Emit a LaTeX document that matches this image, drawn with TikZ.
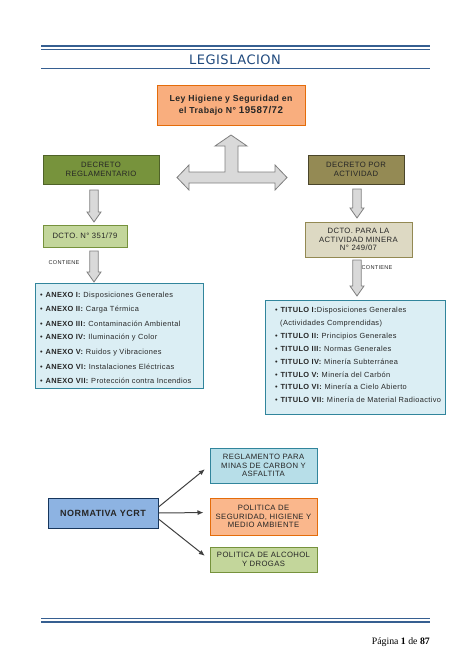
\documentclass[tikz,border=0pt]{standalone}
\usepackage{fontspec}
\setmainfont{Liberation Sans}
\newfontfamily\spfont[LetterSpace=5]{Liberation Sans}
\newfontfamily\titlefont[LetterSpace=4]{DejaVu Sans}
\newfontfamily\footfont{Liberation Serif}
\usetikzlibrary{arrows.meta}
\definecolor{ruleblue}{HTML}{365F91}
\definecolor{titleblue}{HTML}{1F497D}
\definecolor{orfill}{HTML}{F9AE7E}
\definecolor{ordraw}{HTML}{E46C0A}
\definecolor{dgfill}{HTML}{77933C}
\definecolor{dgdraw}{HTML}{4F6228}
\definecolor{olfill}{HTML}{948A54}
\definecolor{oldraw}{HTML}{4A452A}
\definecolor{lgfill}{HTML}{C3D69B}
\definecolor{lgdraw}{HTML}{76923C}
\definecolor{tnfill}{HTML}{DDD9C3}
\definecolor{tndraw}{HTML}{938953}
\definecolor{lbfill}{HTML}{DBEEF4}
\definecolor{lbdraw}{HTML}{31859C}
\definecolor{nbfill}{HTML}{8DB3E2}
\definecolor{nbdraw}{HTML}{17365D}
\definecolor{rbfill}{HTML}{B7DEE8}
\definecolor{pofill}{HTML}{FAB78C}
\definecolor{arrfill}{HTML}{D9D9D9}
\definecolor{arrdraw}{HTML}{7F7F7F}
\newcommand\dnarrow[3]{\draw[blockarr] (#1-4.2,#2) -- (#1+4.2,#2) -- (#1+4.2,#3-10) -- (#1+7,#3-10) -- (#1,#3) -- (#1-7,#3-10) -- (#1-4.2,#3-10) -- cycle;}
\begin{document}
\begin{tikzpicture}[x=1pt,y=-1pt,
  box/.style={draw, line width=1pt, align=center, inner sep=1pt, font=\spfont\fontsize{7.7}{8.8}\selectfont, text=black!85},
  listbox/.style={draw=lbdraw, fill=lbfill, line width=1pt},
  item/.style={anchor=west, inner sep=0pt, font=\spfont\fontsize{7.4}{8}\selectfont, text=black!85},
  blockarr/.style={fill=arrfill, draw=arrdraw, line width=0.8pt, line join=miter},
  conn/.style={draw=black!75, line width=1pt, -{Latex[length=6pt,width=5pt]}, shorten >=6pt},
  lbl/.style={font=\spfont\fontsize{5.6}{6}\selectfont, inner sep=0pt, text=black!85}]
\useasboundingbox (0,0) rectangle (474,669);
% header rules
\draw[ruleblue, line width=1.8pt] (41,46) -- (430,46);
\draw[ruleblue, line width=0.9pt] (41,49.6) -- (430,49.6);
\node[font=\titlefont\fontsize{13}{15}\selectfont, text=titleblue, inner sep=0pt] (title) at (235,60) {LEGISLACION};
\draw[ruleblue, line width=1.4pt] (41,68.5) -- (430,68.5);
% main box
\node[box, draw=ordraw, fill=orfill, minimum width=148pt, minimum height=40pt, font=\spfont\bfseries\fontsize{8.7}{11.5}\selectfont] (ley) at (231,105) {Ley Higiene y Seguridad en\\el Trabajo N° {\fontsize{9.8}{11.5}\selectfont 19587/72}};
% cross arrow
\draw[blockarr] (231,135) -- (247,146) -- (238,146) -- (238,172) -- (275,172) -- (275,165) -- (287,177.5) -- (275,190) -- (275,183) -- (189,183) -- (189,190) -- (177,177.5) -- (189,165) -- (189,172) -- (225,172) -- (225,146) -- (215,146) -- cycle;
% left branch
\node[box, draw=dgdraw, fill=dgfill, minimum width=116pt, minimum height=29pt] (decreg) at (101,169.5) {DECRETO\\REGLAMENTARIO};
\dnarrow{94}{190}{222}
\node[box, draw=lgdraw, fill=lgfill, minimum width=84pt, minimum height=22pt] (d351) at (85,236) {DCTO. N° 351/79};
\node[lbl] (cont1) at (64,263) {CONTIENE};
\dnarrow{94}{251}{282}
\draw[listbox] (35,283.5) rectangle (203,388);
\foreach \yy/\tx in {296/{\textbf{ANEXO I:} Disposiciones Generales},
  310/{\textbf{ANEXO II:} Carga Térmica},
  324/{\textbf{ANEXO III:} Contaminación Ambiental},
  338/{\textbf{ANEXO IV:} Iluminación y Color},
  352.5/{\textbf{ANEXO V:} Ruidos y Vibraciones},
  367/{\textbf{ANEXO VI:} Instalaciones Eléctricas},
  381/{\textbf{ANEXO VII:} Protección contra Incendios}}
  {\node[item] at (40,\yy) {\textbullet\ \tx};}
% right branch
\node[box, draw=oldraw, fill=olfill, minimum width=96pt, minimum height=29pt] (decact) at (356,169.5) {DECRETO POR\\ACTIVIDAD};
\dnarrow{357}{189}{218}
\node[box, draw=tndraw, fill=tnfill, minimum width=107pt, minimum height=35pt] (dmin) at (358.5,239.5) {DCTO. PARA LA\\ACTIVIDAD MINERA\\N° 249/07};
\node[lbl] (cont2) at (377,268) {CONTIENE};
\dnarrow{357}{260}{296}
\draw[listbox] (265,300) rectangle (445,414);
\foreach \yy/\tx in {310.5/{\textbullet\ \textbf{TITULO I:}Disposiciones Generales},
  323.3/{\phantom{\textbullet\ }(Actividades Comprendidas)},
  336.1/{\textbullet\ \textbf{TITULO II:} Principios Generales},
  348.9/{\textbullet\ \textbf{TITULO III:} Normas Generales},
  361.7/{\textbullet\ \textbf{TITULO IV:} Minería Subterránea},
  374.5/{\textbullet\ \textbf{TITULO V:} Minería del Carbón},
  387.3/{\textbullet\ \textbf{TITULO VI:} Minería a Cielo Abierto},
  400.1/{\textbullet\ \textbf{TITULO VII:} Minería de Material Radioactivo}}
  {\node[item] at (275,\yy) {\tx};}
% bottom section
\node[box, draw=nbdraw, fill=nbfill, minimum width=110pt, minimum height=30pt, font=\spfont\bfseries\fontsize{9}{10}\selectfont] (norm) at (103,513) {NORMATIVA YCRT};
\node[box, draw=lbdraw, fill=rbfill, minimum width=107pt, minimum height=35pt] (reg) at (263.5,465.5) {REGLAMENTO PARA\\MINAS DE CARBON Y\\ASFALTITA};
\node[box, draw=ordraw, fill=pofill, minimum width=107pt, minimum height=37pt] (pol) at (263.5,516.5) {POLITICA DE\\SEGURIDAD, HIGIENE Y\\MEDIO AMBIENTE};
\node[box, draw=lgdraw, fill=lgfill, minimum width=107pt, minimum height=25pt] (alc) at (263.5,559.5) {POLITICA DE ALCOHOL\\Y DROGAS};
\draw[conn] ([yshift=6pt]norm.east) -- (reg.west);
\draw[conn] (norm.east) -- ([yshift=4pt]pol.west);
\draw[conn] ([yshift=-6pt]norm.east) -- (alc.west);
% footer
\draw[ruleblue, line width=0.9pt] (41,618.3) -- (430,618.3);
\draw[ruleblue, line width=1.8pt] (41,621.6) -- (430,621.6);
\node[anchor=east, inner sep=0pt, font=\footfont\fontsize{9.8}{11}\selectfont] (foot) at (430,642) {Página \textbf{1} de \textbf{87}};
\end{tikzpicture}
\end{document}
